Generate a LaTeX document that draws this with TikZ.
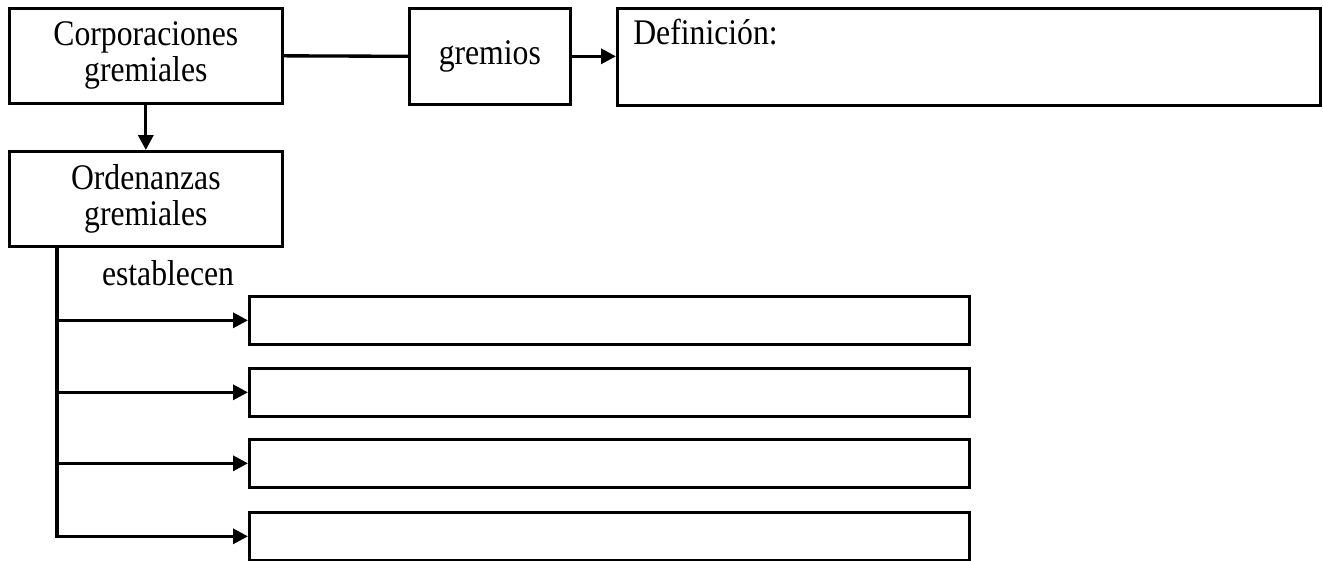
\documentclass[tikz,border=0pt]{standalone}
\usepackage{fontspec}
\setmainfont{Liberation Serif}[FakeStretch=0.88]
\usetikzlibrary{arrows.meta}
\newcommand{\lw}{1.9pt}

\begin{document}
\begin{tikzpicture}[x=0.02cm, y=-0.02cm,
    txt/.style={font=\fontsize{20.5pt}{20.5pt}\selectfont},
    rect/.style={draw, rectangle, anchor=north west, line width=1.5pt, inner sep=0pt, align=center, txt},
    link/.style={line width=\lw},
    arrow/.style={line width=\lw, -{Triangle[length=0.3cm, width=0.3cm]}}]
    \useasboundingbox (0,0) rectangle (1323,561);

    % Top row
    \node[rect, minimum width=273*0.02cm, minimum height=95*0.02cm] (corp) at (8,7) {Corporaciones\\gremiales};
    \node[rect, minimum width=161*0.02cm, minimum height=96*0.02cm] (grem) at (408,7) {gremios};
    \node[rect, minimum width=703*0.02cm, minimum height=97*0.02cm,
        label={[anchor=base west, inner sep=0pt, xshift=17*0.02cm, yshift=-38*0.02cm, txt]north west:Definición:}] (defi) at (616,7) {};

    % Second row
    \node[rect, minimum width=273*0.02cm, minimum height=95*0.02cm] (orde) at (8,150) {Ordenanzas\\gremiales};
    \node[txt, anchor=base] (esta) at (168,285) {establecen};

    % Empty boxes
    \node[rect, minimum width=720*0.02cm, minimum height=48*0.02cm] (box-1) at (248,295) {};
    \node[rect, minimum width=720*0.02cm, minimum height=48*0.02cm] (box-2) at (248,367) {};
    \node[rect, minimum width=720*0.02cm, minimum height=48*0.02cm] (box-3) at (248,438) {};
    \node[rect, minimum width=720*0.02cm, minimum height=48*0.02cm] (box-4) at (248,511) {};

    % Connectors
    \draw[link] (corp.east) -- (grem.west);
    \draw[arrow] (grem.east) -- (grem.east -| defi.west);
    \draw[arrow] (corp.south) -- (orde.north);

    \coordinate (trunk) at ([xshift=49*0.02cm]orde.south west);
    \draw[arrow] (trunk) |- (box-4.west);
    \foreach \i in {1,2,3}
        \draw[arrow] (trunk |- box-\i.west) -- (box-\i.west);

\end{tikzpicture}
\end{document}
